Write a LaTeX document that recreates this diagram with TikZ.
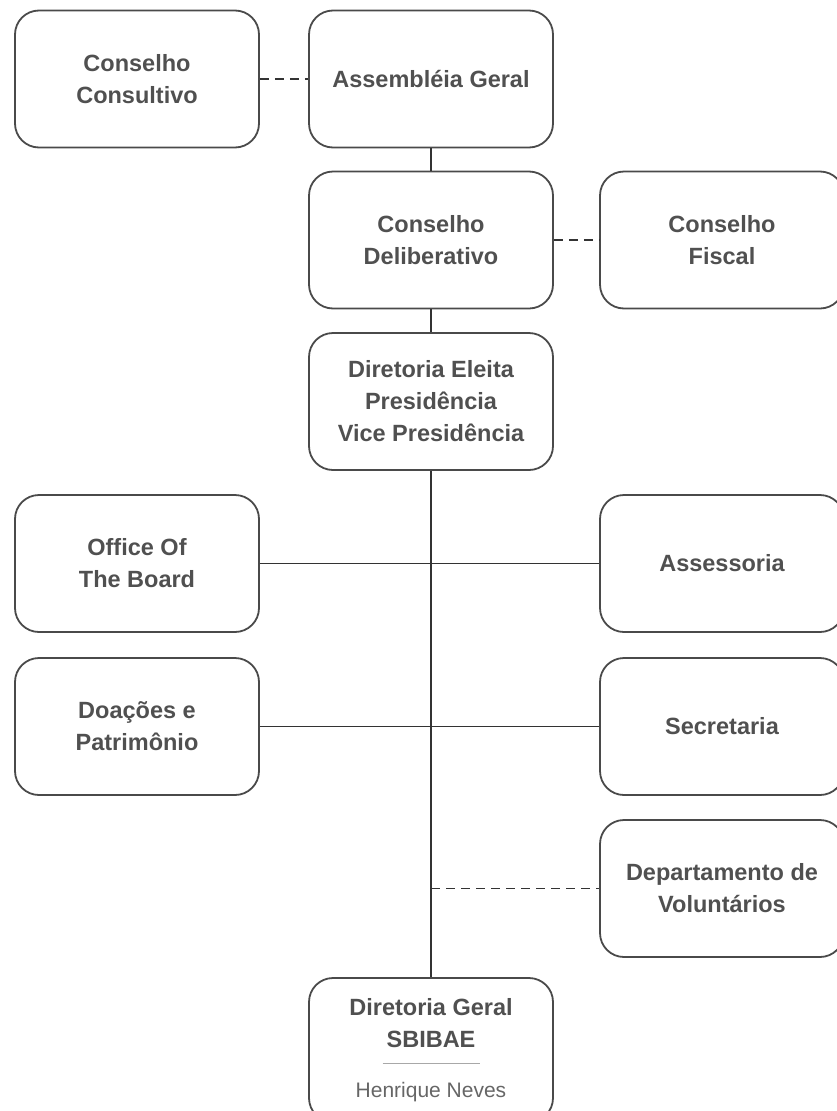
\documentclass[tikz,border=0pt]{standalone}
\usepackage{fontspec}
\setmainfont{Liberation Sans}
\definecolor{boxc}{HTML}{4A4A4A}
\definecolor{txtc}{HTML}{505050}
\definecolor{linec}{HTML}{333333}
\definecolor{namec}{HTML}{666666}
\definecolor{rulec}{HTML}{A8A8A8}
\begin{document}
\begin{tikzpicture}[x=1pt,y=-1pt,
  box/.style={draw=boxc, line width=1.8pt, rounded corners=24pt,
    minimum width=244pt, minimum height=137pt, align=center, inner sep=0pt,
    text=txtc, font=\bfseries\fontsize{23.5}{32}\selectfont},
  conn/.style={draw=linec, line width=1.6pt},
  dconn/.style={draw=linec, line width=1.6pt, dash pattern=on 9pt off 6pt}]
\useasboundingbox (0,0) rectangle (837,1111);
\node[box] (cc) at (137,79) {Conselho\\Consultivo};
\node[box] (ag) at (431,79) {Assembléia Geral};
\node[box] (cd) at (431,240) {Conselho\\Deliberativo};
\node[box] (cf) at (722,240) {Conselho\\Fiscal};
\node[box] (de) at (431,401.5) {Diretoria Eleita\\Presidência\\Vice Presidência};
\node[box] (ob) at (137,563.5) {Office Of\\The Board};
\node[box] (as) at (722,563.5) {Assessoria};
\node[box] (dp) at (137,726.5) {Doações e\\Patrimônio};
\node[box] (se) at (722,726.5) {Secretaria};
\node[box] (dv) at (722,888.5) {Departamento de\\Voluntários};
\node[box, minimum height=144pt] (dg) at (431,1050) {Diretoria Geral\\SBIBAE\\[-15pt]{\color{rulec}\rule{97pt}{1pt}}\\[1pt]{\mdseries\fontsize{21}{24}\selectfont\color{namec}Henrique Neves}};
\coordinate (dvj) at (431,888.5);
\draw[dconn] (cc.east) -- (ag.west);
\draw[dconn] (cd.east) -- (cf.west);
\draw[conn] (ag.south) -- (cd.north);
\draw[conn] (cd.south) -- (de.north);
\draw[conn] (de.south) -- (dg.north);
\draw[conn] (ob.east) -- (as.west);
\draw[conn] (dp.east) -- (se.west);
\draw[dconn] (dvj) -- (dv.west);
\end{tikzpicture}
\end{document}
